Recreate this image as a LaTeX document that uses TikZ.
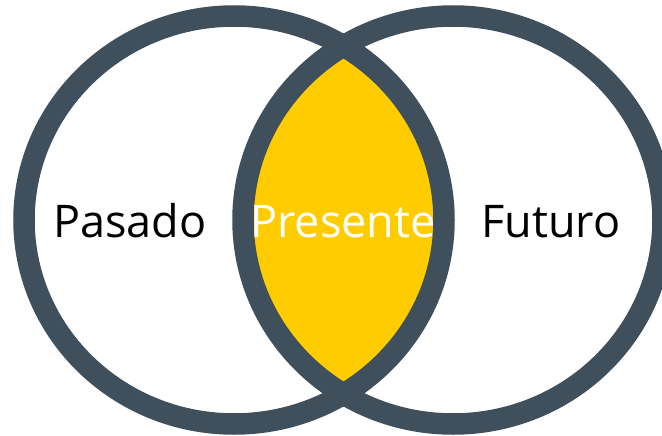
\documentclass[tikz,border=0pt]{standalone}
\usepackage{fontspec}
\setmainfont{Open Sans}
\definecolor{ring}{HTML}{3F4F5C}
\definecolor{lens}{HTML}{FFCC00}
\begin{document}
\begin{tikzpicture}[x=1pt,y=-1pt,
  ringline/.style={draw=ring,line width=21.5pt},
  label/.style={font=\fontsize{45}{50}\selectfont,anchor=base,inner sep=0pt}]
\useasboundingbox (0,0) rectangle (662,436);
\fill[white] (0,0) rectangle (662,436);
\coordinate (cl) at (234,220);
\coordinate (cr) at (453,220);
\begin{scope}
  \clip (cl) ellipse [x radius=210, y radius=204];
  \fill[lens] (cr) ellipse [x radius=210, y radius=204];
\end{scope}
\draw[ringline] (cl) ellipse [x radius=210, y radius=204];
\draw[ringline] (cr) ellipse [x radius=210, y radius=204];
\node[label,text=black] (pasado) at (130,237) {Pasado};
\node[label,text=white] (presente) at (343,237) {Presente};
\node[label,text=black] (futuro) at (551,237) {Futuro};
\end{tikzpicture}
\end{document}
